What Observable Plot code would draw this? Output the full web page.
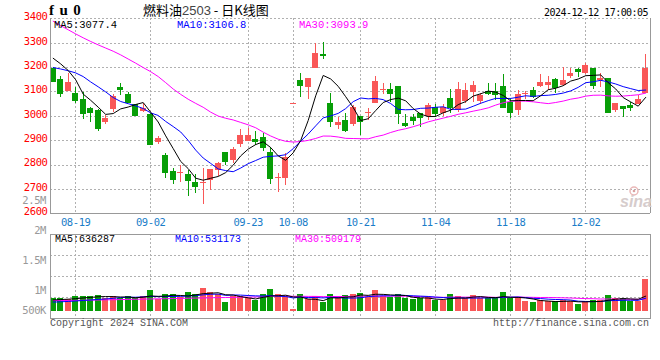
<!DOCTYPE html>
<html><head><meta charset="utf-8">
<script src="https://cdn.jsdelivr.net/npm/d3@7"></script>
<script src="https://cdn.jsdelivr.net/npm/@observablehq/plot@0.6"></script>
<style>
html,body{margin:0;padding:0;background:#fff;}
#wrap{position:relative;width:660px;height:360px;overflow:hidden;background:#fff;}
#wrap svg{position:absolute;left:0;}
</style></head><body><div id="wrap"></div>
<script>
// ---------- data ----------
const dates = ["08-14","08-15","08-16","08-19","08-20","08-21","08-22","08-23","08-26","08-27","08-28","08-29","08-30",
"09-02","09-03","09-04","09-05","09-06","09-09","09-10","09-11","09-12","09-13","09-18","09-19","09-20","09-23","09-24","09-25","09-26","09-27","09-30",
"10-08","10-09","10-10","10-11","10-14","10-15","10-16","10-17","10-18","10-21","10-22","10-23","10-24","10-25","10-28","10-29","10-30","10-31",
"11-01","11-04","11-05","11-06","11-07","11-08","11-11","11-12","11-13","11-14","11-15","11-18","11-19","11-20","11-21","11-22","11-25","11-26","11-27","11-28","11-29",
"12-02","12-03","12-04","12-05","12-06","12-09","12-10","12-11","12-12"];
const open  = [3197,3151,3102,3094,3069,3032,3024,2976,3029,3118,3089,3048,3020,3006,2894,2839,2774,2764,2761,2730,
2723,2737,2778,2851,2819,2884,2898,2905,2912,2850,2746,2746,3050,3147,3117,3195,3255,3054,2964,2983,
2966,2999,3010,3054,3104,3110,3122,2969,2996,3010,2999,3037,3010,3072,3024,3062,3099,3060,3102,3102,
3122,3058,3024,3090,3106,3122,3126,3150,3126,3165,3191,3177,3197,3147,3156,3024,3040,3044,3048,3092];
const high  = [3200,3163,3174,3117,3099,3037,3026,3003,3089,3136,3099,3050,3051,3010,2917,2847,2787,2798,2778,2761,
2785,2782,2812,2851,2871,2946,2949,2938,2928,2871,2764,2846,3052,3174,3156,3300,3304,3095,2994,3010,
3043,3000,3032,3163,3136,3136,3122,3007,3007,3013,3054,3048,3048,3109,3140,3133,3143,3092,3133,3133,
3171,3072,3106,3100,3120,3170,3163,3156,3202,3195,3195,3218,3197,3174,3156,3054,3040,3058,3085,3254];
const low   = [3142,3078,3100,3052,2988,2976,2939,2966,3016,3085,3051,3000,3016,2880,2886,2746,2719,2730,2672,2683,
2638,2697,2754,2798,2805,2871,2898,2880,2857,2720,2687,2716,3050,3078,3069,3195,3233,2955,2947,2935,
2958,2923,2983,3051,3088,3058,2966,2955,2964,2955,2983,2996,2999,3013,3017,3051,3058,3048,3085,3065,
3031,2992,3003,3068,3072,3117,3106,3092,3122,3154,3160,3170,3110,3117,3010,3017,2994,3021,3048,3092];
const close = [3144,3092,3140,3066,3013,3017,2951,2992,3083,3109,3055,3003,3032,2884,2909,2771,2742,2768,2737,2712,
2730,2782,2805,2816,2864,2921,2921,2898,2873,2746,2750,2830,3052,3126,3156,3256,3248,2980,2975,2943,
3035,2980,3017,3143,3108,3095,3010,2962,2984,2994,3044,3013,3037,3037,3109,3106,3126,3084,3092,3088,
3037,3017,3088,3095,3083,3139,3140,3119,3147,3177,3182,3208,3126,3156,3017,3054,3031,3037,3069,3197];
const volume = [516600,518200,482900,630400,628700,631500,659300,524800,617500,546100,
630900,516300,629800,869400,474200,684600,685300,588100,768700,684200,
966300,768100,684900,348600,630200,629500,516800,449400,684700,911400,
685200,630600,71400,684500,474600,630300,348600,684800,629700,659400,
701400,743300,588200,869400,630100,588500,684600,516600,491400,516700,
558600,449400,448800,684600,630200,546300,659400,546100,516900,575400,
768600,516600,517300,407400,348600,449400,407400,407100,441000,420300,
294000,399400,462100,461800,672300,516700,525200,399100,398800,1320000];
const ma5Lead  = [3238,3215,3188,3150];
const ma10Lead = [3200,3194,3187,3178,3163,3141,3121,3100,3077];
const ma30Lead = [3390,3372,3355,3338,3322,3307,3293,3280,3267,3252,3235,3218,3200,3183,3163,3138,3112,3090,3070,3053,3037,3017,3001,2992,2985,2975,2965,2953,2935];
const vma5Lead  = [470000,490000,505000,525000];
const vma10Lead = [380000,395000,410000,430000,450000,470000,495000,515000,540000];
const vma30Lead = [448000,452000,450000,455000,461000,466000,470000,476000,482000,488000,496000,502000,506000,514000,520000,524000,531000,538000,544000,551000,556000,563000,570000,574000,581000,588000,593000,600000,606000];
const dateTicks  = ["08-19","09-02","09-23","10-08","10-21","11-04","11-18","12-02"];
const priceTicks = [2600,2700,2800,2900,3000,3100,3200,3300,3400];
const volTicks     = [2500000,2000000,1500000,1000000,500000];
const volTickText  = ["2.5M","2M","1.5M","1M","500K"];
const maNames      = ["MA5","MA10","MA30"];
const priceLegend  = ["3077.4","3106.8","3093.9"];
const volLegend    = ["636287","531173","509179"];

// ---------- derived ----------
function ma(vals, n, lead){ return vals.map((v,i)=> i < n-1 ? lead[i] : d3.mean(vals.slice(i-n+1,i+1))); }
const RED = "#f95757", GREEN = "#079e07", GRID = "#b0b0b0", BORDER = "#999";
const MA_COLORS = ["#000000","#0000ff","#ff00ff"];
const m5 = ma(close,5,ma5Lead), m10 = ma(close,10,ma10Lead), m30 = ma(close,30,ma30Lead);
const v5 = ma(volume,5,vma5Lead), v10 = ma(volume,10,vma10Lead), v30 = ma(volume,30,vma30Lead);
const rows = dates.map((d,i)=>({i, date:d, o:open[i], h:high[i], l:low[i], c:close[i], v:volume[i],
  up: close[i] >= open[i], m5:m5[i], m10:m10[i], m30:m30[i], v5:v5[i], v10:v10[i], v30:v30[i]}));
const tickIdx = dateTicks.map(t => dates.indexOf(t));
const xDomain = [-0.36, 79.64];
const col = d => d.up ? RED : GREEN;
const MONO = "Liberation Mono, DejaVu Sans Mono, monospace";
const DJM = "DejaVu Sans Mono, monospace";

const wrap = document.getElementById("wrap");

// ---------- price panel ----------
const main = Plot.plot({
  width: 660, height: 228, marginLeft: 50, marginRight: 10, marginTop: 18.3, marginBottom: 14.7,
  x: {type: "linear", domain: xDomain, axis: null},
  y: {domain: [2600, 3400], axis: null},
  style: {background: "transparent", overflow: "visible", fontFamily: DJM},
  marks: [
    Plot.ruleY(priceTicks, {stroke: GRID, strokeDasharray: "2,2", shapeRendering: "crispEdges"}),
    Plot.ruleX(tickIdx, {stroke: GRID, strokeDasharray: "2,2", shapeRendering: "crispEdges"}),
    Plot.ruleX(rows, {x: "i", y1: "l", y2: "h", stroke: col, shapeRendering: "crispEdges"}),
    Plot.rect(rows, {x1: d => d.i - 0.39, x2: d => d.i + 0.39, y1: "o", y2: "c", fill: col, shapeRendering: "crispEdges"}),
    Plot.ruleY(rows, {y: "c", x1: d => d.i - 0.39, x2: d => d.i + 0.39, stroke: col, shapeRendering: "crispEdges"}),
    Plot.line(rows, {x: "i", y: "m30", stroke: MA_COLORS[2], strokeWidth: 1, clip: true}),
    Plot.line(rows, {x: "i", y: "m10", stroke: MA_COLORS[1], strokeWidth: 1, clip: true}),
    Plot.line(rows, {x: "i", y: "m5", stroke: MA_COLORS[0], strokeWidth: 1, clip: true}),
    Plot.ruleX(xDomain, {stroke: BORDER, shapeRendering: "crispEdges"}),
    Plot.ruleY([2600], {stroke: BORDER, shapeRendering: "crispEdges"}),
    Plot.text(priceTicks, {y: d => d, text: d => String(d), frameAnchor: "left", textAnchor: "end",
      dx: -3, dy: -2, fill: "#ff0000", fontSize: 10.5, fontFamily: DJM, letterSpacing: "-0.4px"}),
    Plot.text(tickIdx, {x: d => d, y: 2600, text: (d, k) => dateTicks[k], dy: 8.5,
      fill: "#1a7dc8", fontSize: 10.5, fontFamily: DJM})
  ]
});
main.style.top = "0px";
main.querySelectorAll("text").forEach(n => n.setAttribute("letter-spacing", "-0.4"));
wrap.appendChild(main);

// ---------- volume panel ----------
const vDomain = [-319200, 3208800];
const vGrid = [1,2,3].map(j => vDomain[0] + j * (vDomain[1] - vDomain[0]) / 4);
const vol = Plot.plot({
  width: 660, height: 105, marginLeft: 50, marginRight: 10, marginTop: 9.3, marginBottom: 11.7,
  x: {type: "linear", domain: xDomain, axis: null},
  y: {domain: vDomain, axis: null},
  style: {background: "transparent", overflow: "visible", fontFamily: DJM},
  marks: [
    Plot.ruleY(vGrid, {stroke: GRID, strokeDasharray: "2,2", shapeRendering: "crispEdges"}),
    Plot.ruleX(tickIdx, {stroke: GRID, strokeDasharray: "2,2", shapeRendering: "crispEdges"}),
    Plot.rect(rows, {x1: d => d.i - 0.38, x2: d => d.i + 0.38, y1: 0, y2: "v", fill: col, shapeRendering: "crispEdges"}),
    Plot.line(rows, {x: "i", y: "v30", stroke: MA_COLORS[2], strokeWidth: 1}),
    Plot.line(rows, {x: "i", y: "v10", stroke: MA_COLORS[1], strokeWidth: 1}),
    Plot.line(rows, {x: "i", y: "v5", stroke: MA_COLORS[0], strokeWidth: 1}),
    Plot.frame({stroke: BORDER, shapeRendering: "crispEdges"})
  ]
});
vol.style.top = "225px";
wrap.appendChild(vol);

// ---------- text overlay ----------
const ov = d3.create("svg").attr("width", 660).attr("height", 360)
  .style("top", "0px").style("pointer-events", "none");
ov.append("text").attr("x", 49).attr("y", 14.5).attr("font-family", "Liberation Serif, DejaVu Serif, serif")
  .attr("font-weight", "bold").attr("font-size", 15).attr("letter-spacing", 5.5).text("fu0");
const t = ov.append("text").attr("x", 143).attr("y", 15).attr("font-family", "Noto Sans CJK SC, sans-serif").attr("font-size", 13);
t.append("tspan").text("燃料油");
t.append("tspan").attr("fill", "#444").attr("font-family", "Liberation Sans, sans-serif").text("2503");
t.append("tspan").text(" - 日K线图");
ov.append("text").attr("x", 648).attr("y", 16).attr("text-anchor", "end").attr("font-family", DJM)
  .attr("font-size", 10).attr("letter-spacing", -0.55).text("2024-12-12 17:00:05");
// legends
const mainLegX = [54, 177, 299], volLegX = [55, 175, 295];
maNames.forEach((n, k) => {
  ov.append("text").attr("x", mainLegX[k]).attr("y", 28).attr("font-family", MONO).attr("font-size", 10.5)
    .attr("fill", MA_COLORS[k]).text(n + ":" + priceLegend[k]);
  ov.append("text").attr("x", volLegX[k]).attr("y", 241.5).attr("font-family", MONO).attr("font-size", 10)
    .attr("fill", MA_COLORS[k]).text(n + ":" + volLegend[k]);
});
// volume axis labels (Sina's own label placement)
const labelY = d3.scaleLinear().domain([0, 2500000]).range([349.6, 200.7]);
volTicks.forEach((v, k) => {
  ov.append("text").attr("x", 46).attr("y", Math.min(labelY(v), 310)).attr("dy", "0.35em")
    .attr("text-anchor", "end").attr("font-family", DJM).attr("font-size", 10.5).attr("letter-spacing", -0.4)
    .attr("fill", "#999").text(volTickText[k]);
});
// footer
ov.append("text").attr("x", 50).attr("y", 325.5).attr("font-family", MONO).attr("font-size", 10)
  .attr("fill", "#555").text("Copyright 2024 SINA.COM");
ov.append("text").attr("x", 649).attr("y", 325.5).attr("text-anchor", "end").attr("font-family", MONO)
  .attr("font-size", 10).attr("fill", "#555").text("http://finance.sina.com.cn");
// watermark
ov.append("circle").attr("cx", 634).attr("cy", 191).attr("r", 4).attr("fill", "none").attr("stroke", "#eab8b8").attr("stroke-width", 1.5);
ov.append("circle").attr("cx", 634).attr("cy", 191).attr("r", 1.3).attr("fill", "#d9a0a0");
ov.append("text").attr("x", 652).attr("y", 207).attr("text-anchor", "end")
  .attr("font-family", "Liberation Sans, sans-serif").attr("font-style", "italic").attr("font-weight", "bold")
  .attr("font-size", 16).attr("fill", "#d6cccc").text("sina");
wrap.appendChild(ov.node());
</script></body></html>
